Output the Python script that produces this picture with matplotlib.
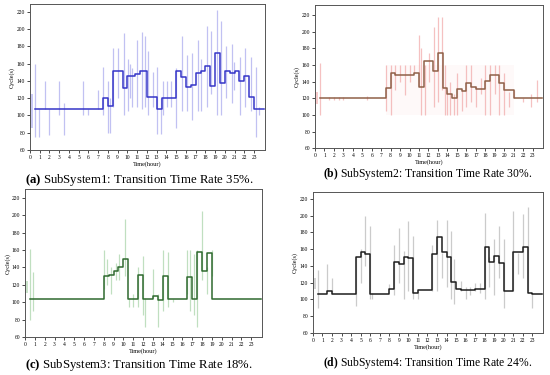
import matplotlib
matplotlib.use("Agg")
import matplotlib.pyplot as plt
import numpy as np

plt.rcParams['font.family'] = ['Liberation Serif', 'DejaVu Serif']
plt.rcParams['mathtext.fontset'] = 'custom'
plt.rcParams['mathtext.rm'] = 'Liberation Serif'
plt.rcParams['mathtext.bf'] = 'Liberation Serif:bold'

hours = list(range(24))

# SubSystem1 (blue)
a_t = [0.5, 7.5, 8.0, 8.5, 9.5, 10.0, 10.8, 11.3, 12.0, 13.0, 13.5, 15.0, 15.5, 16.0, 16.5,
       17.0, 17.5, 18.0, 18.5, 19.0, 19.5, 20.0, 20.5, 21.0, 21.5, 22.0, 22.5, 23.0, 24.0]
a_v = [107, 120, 111, 152, 132, 146, 148, 152, 121, 107, 120, 151, 145, 133, 135,
       149, 151, 157, 134, 172, 138, 151, 149, 151, 140, 146, 121, 107, 107]
a_spk_t = [0.5, 0.9, 1.5, 1.95, 3.0, 3.46, 5.46, 5.98, 7.0, 7.5, 8.0, 8.2, 8.56, 9.0, 9.6,
           10.05, 10.3, 10.5, 11.0, 11.5, 11.77, 12.1, 12.6, 13.05, 13.4, 13.6, 14.1, 14.5,
           15.0, 15.56, 16.15, 16.6, 17.2, 17.6, 18.2, 18.6, 19.15, 19.6, 20.1, 20.7, 20.9,
           21.6, 22.1, 22.7, 23.2, 23.5]
a_spk_lo = [75, 75, 107, 77, 100, 77, 100, 100, 107, 100, 80, 80, 110, 120, 100,
            105, 120, 110, 110, 108, 110, 100, 110, 78, 78, 100, 110, 110,
            85, 105, 105, 95, 105, 105, 110, 125, 100, 100, 120, 115, 130,
            100, 110, 105, 75, 100]
a_spk_hi = [160, 107, 140, 107, 140, 115, 140, 107, 130, 156, 140, 120, 178, 178, 196,
            165, 160, 155, 187, 197, 192, 175, 150, 156, 120, 140, 140, 140,
            155, 192, 170, 172, 188, 165, 204, 198, 222, 210, 180, 183, 162,
            168, 178, 168, 156, 110]
a_box = [0.0, 0.35, 85, 125]

# SubSystem2 (red)
b_t = [0.5, 7.5, 8.0, 8.5, 10.5, 11.0, 11.5, 12.5, 13.0, 13.5, 14.0, 14.5, 15.0, 15.5,
       16.0, 16.5, 17.0, 18.0, 18.5, 19.5, 20.0, 21.0, 24.0]
b_v = [120, 132, 150, 148, 150, 134, 165, 153, 174, 132, 125, 120, 131, 129,
       139, 133, 131, 141, 148, 138, 130, 120, 120]
b_spk_t = [0.5, 1.5, 2.0, 2.5, 3.0, 5.5, 7.5, 8.0, 8.5, 9.0, 9.5, 10.0, 10.5, 11.0, 11.2,
           11.6, 12.1, 12.6, 13.0, 13.4, 13.7, 14.0, 14.3, 14.7, 15.0, 15.5, 16.0, 16.5,
           17.0, 17.5, 18.0, 18.5, 19.0, 19.5, 20.0, 20.5, 21.0, 22.0, 22.8, 23.5]
b_spk_lo = [100, 118, 118, 118, 118, 118, 105, 100, 130, 140, 124, 140, 150, 135, 100,
            100, 140, 110, 115, 130, 100, 100, 100, 100, 100, 105, 110, 115,
            110, 125, 100, 100, 125, 100, 100, 110, 120, 115, 110, 115]
b_spk_hi = [162, 122, 122, 122, 122, 123, 160, 160, 160, 160, 160, 160, 160, 196, 180,
            160, 175, 206, 218, 218, 160, 130, 140, 125, 150, 130, 160, 160,
            135, 145, 160, 160, 160, 160, 150, 128, 130, 120, 125, 142]
b_box = [0.0, 0.3, 113, 127]
b_band = [7.5, 21.0, 100, 160]

# SubSystem3 (green)
c_t = [0.5, 8.0, 8.5, 9.0, 9.5, 10.0, 10.5, 11.5, 12.0, 13.0, 13.5, 14.0, 14.5, 16.5,
       17.0, 17.5, 18.0, 18.5, 19.0, 24.0]
c_v = [104, 130, 131, 136, 141, 150, 104, 131, 104, 107, 103, 130, 104, 129,
       104, 158, 136, 156, 104, 104]
c_spk_t = [0.5, 0.8, 8.0, 8.3, 8.7, 9.2, 9.6, 10.2, 10.6, 11.0, 11.5, 12.0, 12.2, 13.0,
           13.5, 14.0, 14.5, 15.0, 16.5, 16.8, 17.2, 17.5, 18.0, 18.5, 19.0]
c_spk_lo = [80, 90, 115, 120, 110, 125, 125, 130, 95, 95, 95, 85, 72, 105,
            72, 90, 95, 100, 110, 90, 85, 72, 125, 110, 130]
c_spk_hi = [161, 135, 160, 150, 140, 145, 155, 196, 105, 110, 140, 153, 105, 138,
            110, 160, 158, 104, 160, 160, 155, 160, 205, 140, 160]
c_box = [0.0, 0.35, 111, 124]

# SubSystem4 (black)
d_t = [0.5, 1.5, 2.0, 4.5, 5.0, 5.5, 6.0, 8.0, 8.5, 9.0, 9.5, 10.0, 10.5, 11.0, 12.5,
       13.0, 13.5, 14.0, 14.5, 15.0, 15.5, 17.0, 18.0, 18.5, 19.0, 19.5, 20.0, 21.0,
       21.5, 22.0, 22.5, 23.0, 24.0]
d_v = [107, 110, 107, 151, 156, 154, 107, 112, 145, 142, 150, 149, 108, 111, 154,
       174, 156, 151, 121, 113, 111, 112, 162, 145, 152, 144, 110, 157,
       156, 163, 108, 107, 107]
d_spk_t = [0.5, 1.5, 2.0, 4.5, 5.0, 5.5, 6.0, 6.2, 8.0, 8.5, 9.0, 9.5, 10.0, 10.5, 11.0,
           12.5, 13.0, 13.5, 14.0, 14.5, 14.8, 15.5, 16.0, 16.5, 17.0, 17.5, 18.0, 18.5,
           19.0, 19.5, 20.0, 21.0, 21.5, 22.0, 22.5, 23.0]
d_spk_lo = [90, 110, 107, 92, 120, 140, 100, 100, 112, 105, 120, 100, 110, 100, 100,
            110, 110, 125, 115, 100, 95, 110, 100, 105, 110, 108, 100, 115,
            105, 125, 90, 110, 130, 125, 110, 90]
d_spk_hi = [135, 142, 126, 150, 160, 200, 188, 108, 118, 165, 185, 158, 193, 176, 110,
            165, 195, 155, 195, 182, 148, 122, 115, 115, 120, 120, 203, 150,
            172, 188, 172, 205, 155, 202, 210, 108]
d_box = [0.0, 0.35, 112, 125]

captions = [r"$\bf{(a)}$ SubSystem1: Transition Time Rate 35%.",
            r"$\bf{(b)}$ SubSystem2: Transition Time Rate 30%.",
            r"$\bf{(c)}$ SubSystem3: Transition Time Rate 18%.",
            r"$\bf{(d)}$ SubSystem4: Transition Time Rate 24%."]


def draw_panel(ax, st, sv, spt, splo, sphi, box, line_c, raw_c, ylim, band=None):
    if band is not None:
        ax.fill_between([band[0], band[1]], band[2], band[3], color=raw_c, alpha=0.06, lw=0)
    ax.fill_between([box[0], box[1]], box[2], box[3], color=raw_c, alpha=0.55, lw=0)
    ax.vlines(spt, splo, sphi, color=raw_c, lw=0.9, alpha=0.65)
    ax.step(st, sv, where='post', color=line_c, lw=1.1)
    ax.set_xlim(0, 24.1)
    ax.set_ylim(*ylim)
    ax.set_xticks(hours)
    ax.set_yticks(range(60, 221, 20))
    ax.tick_params(labelsize=4, length=2, width=0.5, pad=1.5)
    ax.set_xlabel('Time(hour)', fontsize=4.5, labelpad=1)
    ax.set_ylabel('Cycle(s)', fontsize=4.5, labelpad=1)
    for s in ax.spines.values():
        s.set_color('#555555')
        s.set_linewidth(0.7)


fig = plt.figure(figsize=(5.5, 3.75), dpi=100)
ax_a = fig.add_axes([0.0545, 0.600, 0.427, 0.389])
ax_b = fig.add_axes([0.5727, 0.605, 0.4145, 0.381])
ax_c = fig.add_axes([0.0455, 0.101, 0.431, 0.395])
ax_d = fig.add_axes([0.569, 0.112, 0.418, 0.376])

draw_panel(ax_a, a_t, a_v, a_spk_t, a_spk_lo, a_spk_hi, a_box, '#3535c8', '#a0a0ec', (60, 229))
draw_panel(ax_b, b_t, b_v, b_spk_t, b_spk_lo, b_spk_hi, b_box, '#8f6048', '#f0a0a0', (60, 232), band=b_band)
draw_panel(ax_c, c_t, c_v, c_spk_t, c_spk_lo, c_spk_hi, c_box, '#2f6a2f', '#9fcf9f', (60, 230))
draw_panel(ax_d, d_t, d_v, d_spk_t, d_spk_lo, d_spk_hi, d_box, '#1e1e1e', '#b0b0b0', (60, 228))

cap_pos = [(0.0455, 1 - 180 / 375), (0.587, 1 - 174 / 375),
           (0.0455, 1 - 365 / 375), (0.587, 1 - 363 / 375)]
cap_size = [9.2, 8.4, 9.2, 8.4]
for (x, y), txt, fs in zip(cap_pos, captions, cap_size):
    fig.text(x, y, txt, fontsize=fs, ha='left', va='center')

fig.savefig('out.png', dpi=100)
